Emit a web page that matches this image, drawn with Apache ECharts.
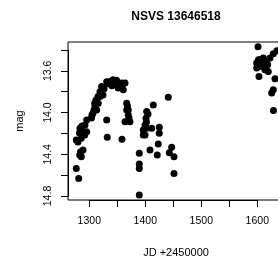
<!DOCTYPE html>
<html>
<head>
<meta charset="utf-8">
<script src="https://cdn.jsdelivr.net/npm/echarts@6/dist/echarts.min.js"></script>
<style>html,body{margin:0;padding:0;background:#fff}#c{width:278px;height:266px}</style>
</head>
<body>
<div id="c"></div>
<script>
var jd = [1276.8,1281.1,1282.9,1285.7,1288.8,1284.3,1276.8,1285.7,1288.8,1291.8,1283.4,1295.4,1292.3,1295.4,1287.0,1282.5,1279.8,
1304.8,1306.6,1308.4,1310.2,1309.6,1312.0,1315.5,1316.1,1313.2,1319.1,1322.1,1324.5,1303.9,1319.1,
1331.1,1337.0,1333.4,1342.3,1345.9,1351.8,1354.8,1357.9,1360.7,1363.8,1340.5,1326.3,1348.6,1358.4,
1366.8,1366.8,1369.6,1363.8,1372.7,1369.6,1368.2,1370.9,
1331.1,1332.1,1358.4,
1414.3,1441.1,1402.5,1404.8,1401.3,1399.5,1402.5,1396.4,1396.4,1399.5,1425.0,1425.0,1411.4,1423.2,1408.4,1421.4,1389.3,1389.3,1389.3,1442.9,1447.1,1451.3,1451.3,1389.3,1402.1,
1601.3,1628.6,1598.9,1604.8,1610.7,1616.8,1607.9,1613.8,1619.6,1598.9,1603.0,1622.7,1631.6,1628.6,1625.7,1628.9,1608.4,1602.1,1611.3,1618.4,1635.2];
var mag = [14.535,14.631,14.407,14.423,14.359,14.378,14.263,14.246,14.183,14.214,14.150,14.183,14.118,14.070,14.128,14.195,14.282,
14.022,14.006,13.974,13.936,13.910,13.878,13.846,13.910,13.974,13.846,13.750,13.830,14.051,13.800,
13.704,13.702,13.724,13.686,13.718,13.765,13.734,13.717,13.782,13.717,13.743,13.772,13.690,13.753,
13.910,13.974,14.022,14.087,14.087,13.974,13.936,14.051,
14.070,14.237,14.256,
13.926,13.852,13.990,14.013,14.054,14.118,14.150,14.166,14.214,14.214,14.140,14.198,14.150,14.301,14.359,14.407,14.390,14.493,14.535,14.385,14.333,14.423,14.583,14.791,14.089,
13.368,13.436,13.525,13.493,13.477,13.510,13.558,13.589,13.606,13.573,13.654,13.477,13.676,13.782,13.813,13.979,13.532,13.493,13.551,13.541,13.407];
var xTicks = [1300, 1600, 50];
var yTicks = [13.4, 14.8, 0.2];
var titleText = 'NSVS 13646518';
var xName = 'JD +2450000';
var yName = 'mag';

var pts = jd.map(function (v, i) { return [v, mag[i]]; });
var F = 'Liberation Sans, Arial, Helvetica, sans-serif';
var chart = echarts.init(document.getElementById('c'), null, {renderer: 'canvas'});
var hidden = {show: false};
chart.setOption({
  animation: false,
  backgroundColor: '#fff',
  title: {text: titleText, left: 171, top: 6, textAlign: 'center',
    textStyle: {fontFamily: F, fontSize: 12, fontWeight: 'bold', color: '#000'}},
  grid: [
    {left: 68, top: 42, width: 216, height: 158, outerBoundsMode: 'none', containLabel: false, show: true, borderColor: '#000', borderWidth: 1, backgroundColor: 'transparent'},
    {left: 68, top: 50, width: 216, height: 146, outerBoundsMode: 'none', containLabel: false},
    {left: 89.3, top: 42, width: 168, height: 158, outerBoundsMode: 'none', containLabel: false}
  ],
  xAxis: [
    {gridIndex: 0, type: 'value', min: 1262, max: 1647.7, show: true,
      axisLine: hidden, axisTick: hidden, axisLabel: hidden, splitLine: hidden,
      name: xName, nameLocation: 'middle', nameGap: 47,
      nameTextStyle: {fontFamily: F, fontSize: 11, color: '#000'}},
    {gridIndex: 1, type: 'value', show: false},
    {gridIndex: 2, type: 'value', min: xTicks[0], max: xTicks[1], interval: xTicks[2], position: 'bottom',
      axisLine: {show: true, lineStyle: {color: '#000', width: 1}},
      axisTick: {show: true, length: 7, inside: false, lineStyle: {color: '#000', width: 1}},
      axisLabel: {show: true, margin: 16, fontFamily: F, fontSize: 10.5, color: '#000',
        formatter: function (v) { return v % 100 === 0 ? String(v) : ''; }},
      splitLine: hidden}
  ],
  yAxis: [
    {gridIndex: 0, type: 'value', min: 13.323, max: 14.838, inverse: true, show: true,
      axisLine: hidden, axisTick: hidden, axisLabel: hidden, splitLine: hidden,
      name: yName, nameLocation: 'middle', nameGap: 43, nameRotate: 90,
      nameTextStyle: {fontFamily: F, fontSize: 11, color: '#000'}},
    {gridIndex: 1, type: 'value', min: yTicks[0], max: yTicks[1], interval: yTicks[2], inverse: true, position: 'left',
      axisLine: {show: true, lineStyle: {color: '#000', width: 1}},
      axisTick: {show: true, length: 7, inside: false, lineStyle: {color: '#000', width: 1}},
      axisLabel: {show: true, rotate: 90, margin: 14, fontFamily: F, fontSize: 10.5, color: '#000',
        formatter: function (v) { var r = Math.round(v * 10); return (r % 4 === 0) ? v.toFixed(1) : ''; }},
      splitLine: hidden},
    {gridIndex: 2, type: 'value', show: false}
  ],
  series: [{
    type: 'scatter', xAxisIndex: 0, yAxisIndex: 0, data: pts,
    symbol: 'circle', symbolSize: 7, itemStyle: {color: '#000', opacity: 1}, clip: false
  }]
});
</script>
</body>
</html>
